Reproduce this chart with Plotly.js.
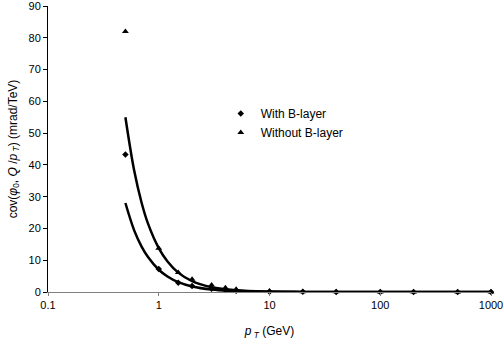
<!DOCTYPE html>
<html><head><meta charset="utf-8">
<script src="https://cdn.plot.ly/plotly-3.0.1.min.js"></script>
<style>html,body{margin:0;padding:0;background:#fff}#c{width:504px;height:347px}</style>
</head><body><div id="c"></div>
<script>
const pt = [0.5, 1, 1.5, 2, 3, 4, 5, 10, 20, 40, 100, 200, 500, 1000];
const withB = [43.3, 7.2, 2.9, 1.9, 1.0, 0.6, 0.4, 0.1, 0.05, 0.03, 0.02, 0.02, 0.02, 0.02];
const withoutB = [82, 13.8, 6.1, 4.0, 2.2, 1.3, 0.9, 0.3, 0.1, 0.05, 0.03, 0.03, 0.03, 0.03];
const trendX = [0.5, 0.6, 0.7, 0.8, 1, 1.2, 1.5, 2, 3, 5, 10, 20, 100, 1000];
const trendWith = [28, 19.4, 14.3, 11.0, 7.0, 4.9, 3.1, 1.75, 0.78, 0.28, 0.07, 0.02, 0, 0];
const trendWithout = [55, 38.2, 28.1, 21.5, 13.8, 9.6, 6.1, 3.4, 1.5, 0.55, 0.14, 0.03, 0, 0];
const names = ["With B-layer", "Without B-layer"];
const yTicks = [0, 10, 20, 30, 40, 50, 60, 70, 80, 90];
const xTicks = [0.1, 1, 10, 100, 1000];
const xTickText = ['0.1', '1', '10', '100', '1000'];

const traces = [
  {x: trendX, y: trendWith, mode: 'lines', line: {color: '#000', width: 2.5, shape: 'spline'}, showlegend: false, hoverinfo: 'skip', cliponaxis: false},
  {x: trendX, y: trendWithout, mode: 'lines', line: {color: '#000', width: 2.5, shape: 'spline'}, showlegend: false, hoverinfo: 'skip', cliponaxis: false},
  {x: pt, y: withB, name: names[0], mode: 'markers', marker: {symbol: 'diamond', size: 5, color: '#000'}, cliponaxis: false},
  {x: pt, y: withoutB, name: names[1], mode: 'markers', marker: {symbol: 'triangle-up', size: 6, color: '#000'}, cliponaxis: false}
];
const font = {family: 'Liberation Sans, Arial, sans-serif', size: 11, color: '#000'};
const layout = {
  width: 504, height: 347,
  margin: {l: 48, r: 13, t: 6, b: 55},
  paper_bgcolor: '#fff', plot_bgcolor: '#fff',
  font: font,
  showlegend: true,
  legend: {x: 0.39, y: 0.675, xanchor: 'left', yanchor: 'top', bgcolor: 'rgba(0,0,0,0)', font: {family: font.family, size: 12, color: '#000'}, itemwidth: 30, tracegroupgap: 0},
  xaxis: {
    type: 'log', range: [-1, 3], showgrid: false, zeroline: false,
    showline: true, linecolor: '#808080', linewidth: 1,
    ticks: 'outside', ticklen: 3, tickcolor: '#808080',
    tickvals: xTicks, ticktext: xTickText, ticklabeloverflow: 'allow',
    tickfont: font,
    title: {text: '<i>p</i><sub> <i>T</i></sub> (GeV)', font: {family: font.family, size: 12, color: '#000'}, standoff: 16}
  },
  yaxis: {
    range: [0, 90], showgrid: false, zeroline: false,
    showline: true, linecolor: '#000', linewidth: 1,
    ticks: 'outside', ticklen: 4, tickcolor: '#000',
    tickvals: yTicks, tickfont: font, ticklabeloverflow: 'allow',
    title: {text: 'cov(<i>φ</i><sub>0</sub>, <i>Q</i> /<i>p</i><sub> <i>T</i></sub>) (mrad/TeV)', font: {family: font.family, size: 12, color: '#000'}, standoff: 8}
  }
};
Plotly.newPlot('c', traces, layout, {displayModeBar: false, staticPlot: true});
</script></body></html>
